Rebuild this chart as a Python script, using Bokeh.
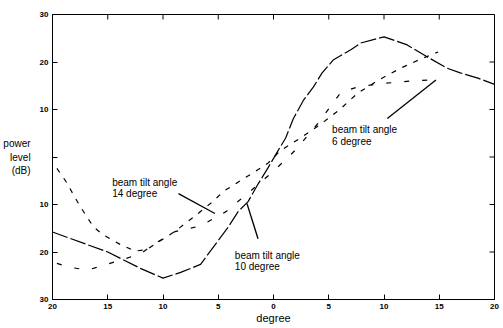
from bokeh.plotting import figure
from bokeh.models import Range1d, FixedTicker, Label
from bokeh.embed import file_html
from bokeh.resources import INLINE

# ---- data ----
x_ticks = [-20, -15, -10, -5, 0, 5, 10, 15, 20]
x_tick_labels = ["20", "15", "10", "5", "0", "5", "10", "15", "20"]
y_ticks = [-30, -20, -10, 0, 10, 20, 30]
y_tick_labels = ["30", "20", "10", "", "10", "20", "30"]

tilt10_deg = [-20, -15, -12, -10, -8.4, -6.6, -5.1, -4.2, -3.2, -2.3, -1.4, -0.5, 0.4, 1.1,
              1.8, 2.7, 3.6, 4.4, 5.4, 7.0, 7.9, 10, 12.1, 13.9, 15.7, 16.9, 18.5, 20]
tilt10_db = [-15.8, -20, -23.5, -25.5, -24.3, -22.6, -17.9, -15.1, -11.5, -9.4, -5.7, -2.3, 1.3, 4.0,
             8.1, 11.9, 14.7, 17.7, 20.4, 22.6, 24.0, 25.3, 23.6, 21.1, 18.7, 17.7, 16.6, 15.3]

tilt14_deg = [-19.6, -18.8, -17.5, -16.3, -15.4, -13.8, -12.5, -11.5, -10.5, -9, -7.2, -5.5, -4.5,
              -2.8, -1.9, -0.5, 0.6, 2.3, 4.1, 5.9, 7.6, 9.5, 11.5, 13.2, 14.9]
tilt14_db = [-2.4, -5.1, -10.4, -14.7, -16.4, -18.5, -19.8, -19.5, -18, -15.8, -12.6, -9.4, -7.2,
             -4.7, -3.4, -1.3, 1.3, 3.8, 6.6, 9.8, 13.4, 16.2, 18.7, 20.5, 22.1]

tilt6_deg = [-19.6, -18.5, -16.8, -15.4, -13.5, -12, -10.5, -8.9, -6.6, -4.3, -2, 0, 2, 4,
             6.1, 7.7, 10, 12.5, 15]
tilt6_db = [-22.4, -23.2, -23.8, -22.8, -21.5, -20.3, -17.9, -15.7, -14.5, -11.5, -7, -3, 1.5, 7,
            13.6, 14.8, 15.5, 16, 16.3]

# annotation texts (two lines each) and pointer positions
notes = [
    ("beam tilt angle", "14 degree", -14.6, -5.4, -7.7),
    ("beam tilt angle", "10 degree", -3.5, -20.7, -23.1),
    ("beam tilt angle", "6 degree", 5.3, 5.8, 3.3),
]
pointer_x0 = [-8.6, -2.4, 10.3]
pointer_y0 = [-7.7, -9.8, 8.1]
pointer_x1 = [-5.3, -1.4, 14.7]
pointer_y1 = [-11.9, -17.2, 16.2]

FONT = "Liberation Sans"
X0, X1, Y0, Y1 = -20, 20, -30, 30

p = figure(width=503, height=328, output_backend="svg", toolbar_location=None,
           x_range=Range1d(X0, X1), y_range=Range1d(Y0, Y1),
           min_border_left=52, min_border_right=9, min_border_top=14, min_border_bottom=29)
p.background_fill_color = "white"
p.border_fill_color = "white"
p.xgrid.visible = False
p.ygrid.visible = False
p.outline_line_color = "black"
p.outline_line_width = 1

xa = p.xaxis[0]
xa.ticker = FixedTicker(ticks=x_ticks)
xa.major_label_overrides = {t: s for t, s in zip(x_ticks, x_tick_labels)}
xa.axis_label = "degree"
xa.axis_label_text_font_size = "11px"
xa.axis_label_standoff = 0
ya = p.yaxis[0]
ya.ticker = FixedTicker(ticks=y_ticks)
ya.major_label_overrides = {t: s for t, s in zip(y_ticks, y_tick_labels)}
ya.axis_label = "power\nlevel\n(dB)"
ya.axis_label_orientation = "horizontal"
ya.axis_label_text_font_size = "10px"
ya.axis_label_text_align = "right"
ya.axis_label_standoff = 6

for ax in (xa, ya):
    ax.major_tick_in = 5
    ax.major_tick_out = 0
    ax.minor_tick_line_color = None
    ax.major_label_text_font = FONT
    ax.major_label_text_font_size = "8px"
    ax.major_label_text_font_style = "bold"
    ax.major_label_text_color = "black"
    ax.major_label_standoff = 4
    ax.axis_label_text_font = FONT
    ax.axis_label_text_font_style = "normal"
    ax.axis_label_text_color = "black"
    ax.axis_line_color = "black"
    ax.major_tick_line_color = "black"

# inward ticks on the top and right frame edges
tick_dy = 5 * (Y1 - Y0) / 285
tick_dx = 5 * (X1 - X0) / 442
p.segment(x0=x_ticks, y0=[Y1] * len(x_ticks), x1=x_ticks, y1=[Y1 - tick_dy] * len(x_ticks),
          line_color="black", line_width=1)
p.segment(x0=[X1] * len(y_ticks), y0=y_ticks, x1=[X1 - tick_dx] * len(y_ticks), y1=y_ticks,
          line_color="black", line_width=1)

p.line(tilt10_deg, tilt10_db, line_color="black", line_width=1.2, line_dash="16 3")
p.line(tilt14_deg, tilt14_db, line_color="black", line_width=1.2, line_dash="5 7")
p.line(tilt6_deg, tilt6_db, line_color="black", line_width=1.2, line_dash="5 13")

p.segment(x0=pointer_x0, y0=pointer_y0, x1=pointer_x1, y1=pointer_y1,
          line_color="black", line_width=1.3)

for l1, l2, tx, ty1, ty2 in notes:
    p.add_layout(Label(x=tx, y=ty1, text=l1, text_font=FONT, text_font_size="10px",
                       text_baseline="middle", text_color="black"))
    p.add_layout(Label(x=tx, y=ty2, text=l2, text_font=FONT, text_font_size="10px",
                       text_baseline="middle", text_color="black"))

open("out.html", "w").write(file_html(p, INLINE))
